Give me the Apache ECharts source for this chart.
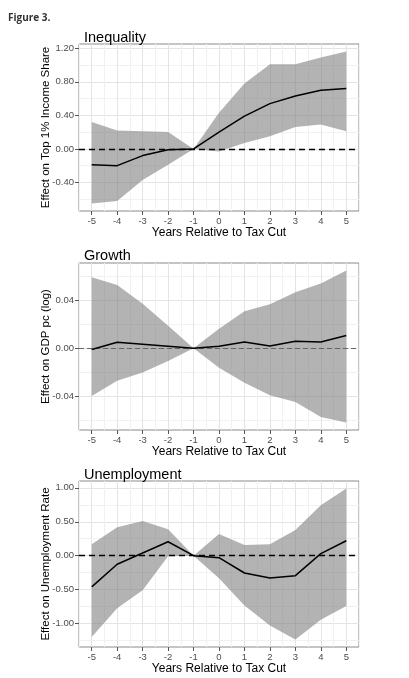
<!DOCTYPE html>
<html>
<head>
<meta charset="utf-8">
<script src="https://cdn.jsdelivr.net/npm/echarts@6/dist/echarts.min.js"></script>
<style>
html,body{margin:0;padding:0;background:#fff;}
#chart{width:409px;height:678px;}
</style>
</head>
<body>
<div id="chart"></div>
<script>
// ---- data ----
const years = [-5, -4, -3, -2, -1, 0, 1, 2, 3, 4, 5];
const xTicks = [-5, -4, -3, -2, -1, 0, 1, 2, 3, 4, 5];

const ineqEst   = [-0.19, -0.20, -0.08, -0.01, 0, 0.20, 0.39, 0.54, 0.63, 0.70, 0.72];
const ineqUpper = [0.32, 0.22, 0.21, 0.20, 0, 0.43, 0.78, 1.01, 1.01, 1.09, 1.16];
const ineqLower = [-0.65, -0.62, -0.37, -0.19, 0, -0.03, 0.07, 0.15, 0.26, 0.29, 0.21];
const ineqTicks = [-0.4, 0, 0.4, 0.8, 1.2];

const growthEst   = [-0.001, 0.005, 0.0034, 0.0017, 0, 0.0017, 0.0053, 0.002, 0.0059, 0.0053, 0.0107];
const growthUpper = [0.0595, 0.053, 0.0373, 0.0188, 0, 0.0163, 0.0309, 0.0368, 0.0469, 0.0542, 0.065];
const growthLower = [-0.040, -0.0272, -0.0202, -0.0107, 0, -0.0163, -0.0289, -0.0393, -0.0449, -0.0575, -0.062];
const growthTicks = [-0.04, 0, 0.04];

const unempEst   = [-0.46, -0.127, 0.04, 0.206, 0, -0.03, -0.255, -0.33, -0.294, 0.03, 0.22];
const unempUpper = [0.167, 0.42, 0.51, 0.39, 0, 0.32, 0.157, 0.17, 0.38, 0.745, 0.99];
const unempLower = [-1.20, -0.775, -0.51, -0.01, 0, -0.333, -0.735, -1.03, -1.235, -0.946, -0.74];
const unempTicks = [-1, -0.5, 0, 0.5, 1];

const titles = ['Inequality', 'Growth', 'Unemployment'];
const yNames = ['Effect on Top 1% Income Share', 'Effect on GDP pc (log)', 'Effect on Unemployment Rate'];
const xName = 'Years Relative to Tax Cut';

// ---- build ----
const panels = [
  {est: ineqEst, up: ineqUpper, lo: ineqLower, ticks: ineqTicks, top: 44, h: 167, titleTop: 25, zero: {color: '#000', width: 1.3, type: [6, 4]}},
  {est: growthEst, up: growthUpper, lo: growthLower, ticks: growthTicks, top: 263, h: 167, titleTop: 243, zero: {color: '#666', width: 1, type: [5, 3]}},
  {est: unempEst, up: unempUpper, lo: unempLower, ticks: unempTicks, top: 481, h: 166, titleTop: 462, zero: {color: '#000', width: 1.3, type: [6, 4]}}
];

function minorsOf(ticks, lo, hi) {
  const step = ticks[1] - ticks[0];
  const out = [];
  for (let k = -1; k < ticks.length; k++) {
    const v = +(ticks[0] + (k + 0.5) * step).toFixed(10);
    if (v > lo && v < hi) out.push(v);
  }
  return out;
}

const FONT = 'Liberation Sans, Arial, sans-serif';
const option = {
  animation: false,
  backgroundColor: '#fff',
  title: [{text: 'Figure 3.', left: 3, top: 8, textStyle: {fontFamily: 'Open Sans', fontWeight: 'bold', fontSize: 10, color: '#333'}}],
  grid: [], xAxis: [], yAxis: [], series: []
};

const xLo = xTicks[0] - 0.5, xHi = xTicks[xTicks.length - 1] + 0.5;
const xMinor = minorsOf(xTicks, xLo - 1e-9, xHi + 1e-9);

panels.forEach((p, i) => {
  const all = p.lo.concat(p.up, p.est);
  const dmin = Math.min(...all), dmax = Math.max(...all);
  const pad = (dmax - dmin) * 0.05;
  const yLo = dmin - pad, yHi = dmax + pad;
  const yMinor = minorsOf(p.ticks, yLo, yHi);

  option.title.push({text: titles[i], left: 79, top: p.titleTop, textStyle: {fontFamily: FONT, fontWeight: 'normal', fontSize: 14.5, color: '#000'}});
  option.grid.push({left: 79, top: p.top, width: 280, height: p.h, show: true, borderColor: '#8a8a8a', borderWidth: 1, backgroundColor: '#fff'});

  // major x axis
  option.xAxis.push({
    type: 'value', gridIndex: i, min: xLo, max: xHi, position: 'bottom',
    name: xName, nameLocation: 'middle', nameGap: 16, nameMoveOverlap: false,
    nameTextStyle: {fontFamily: FONT, fontSize: 12, color: '#000'},
    axisLine: {show: false, onZero: false},
    axisTick: {show: true, length: 4, lineStyle: {color: '#555'}, customValues: xTicks},
    axisLabel: {customValues: xTicks, margin: 5, fontFamily: FONT, fontSize: 9.5, color: '#4d4d4d', formatter: v => String(v)},
    splitLine: {show: true, lineStyle: {color: '#e4e4e4', width: 1}}
  });
  // minor x axis
  option.xAxis.push({
    type: 'value', gridIndex: i, min: xLo, max: xHi, position: 'bottom',
    axisLine: {show: false, onZero: false}, axisLabel: {show: false},
    axisTick: {show: false, customValues: xMinor},
    splitLine: {show: true, lineStyle: {color: '#f1f1f1', width: 1}}
  });
  // major y
  option.yAxis.push({
    type: 'value', gridIndex: i, min: yLo, max: yHi, position: 'left',
    name: yNames[i], nameLocation: 'middle', nameGap: 27, nameMoveOverlap: false,
    nameTextStyle: {fontFamily: FONT, fontSize: 11.5, color: '#000'},
    axisLine: {show: false, onZero: false},
    axisTick: {show: true, length: 4, lineStyle: {color: '#555'}, customValues: p.ticks},
    axisLabel: {customValues: p.ticks, margin: 5, fontFamily: FONT, fontSize: 9.5, color: '#4d4d4d', formatter: v => (Math.abs(v) < 1e-12 ? 0 : v).toFixed(2)},
    splitLine: {show: true, lineStyle: {color: '#e4e4e4', width: 1}}
  });
  // minor y
  option.yAxis.push({
    type: 'value', gridIndex: i, min: yLo, max: yHi, position: 'left',
    axisLine: {show: false, onZero: false}, axisLabel: {show: false},
    axisTick: {show: false, customValues: yMinor},
    splitLine: {show: true, lineStyle: {color: '#f1f1f1', width: 1}}
  });

  const xi = 2 * i, yi = 2 * i;
  // confidence band as a polygon through the axis scales
  option.series.push({
    type: 'custom', xAxisIndex: xi, yAxisIndex: yi, silent: true, z: 2,
    data: years.map((x, k) => [x, p.lo[k], p.up[k]]),
    encode: {x: 0, y: [1, 2]},
    renderItem: (params, api) => {
      if (params.dataIndex !== 0) return null;
      const pts = [];
      years.forEach((x, k) => pts.push(api.coord([x, p.up[k]])));
      for (let k = years.length - 1; k >= 0; k--) pts.push(api.coord([years[k], p.lo[k]]));
      return {type: 'polygon', shape: {points: pts}, style: {fill: 'rgba(128,128,128,0.6)'}};
    }
  });
  option.series.push({
    type: 'line', xAxisIndex: xi, yAxisIndex: yi,
    data: years.map((x, k) => [x, p.est[k]]), symbol: 'none', silent: true, z: 5,
    lineStyle: {color: '#000', width: 1.5},
    markLine: {silent: true, symbol: 'none', label: {show: false}, lineStyle: p.zero, data: [{yAxis: 0}]}
  });
});

const chart = echarts.init(document.getElementById('chart'), null, {renderer: 'canvas'});
chart.setOption(option);
</script>
</body>
</html>
